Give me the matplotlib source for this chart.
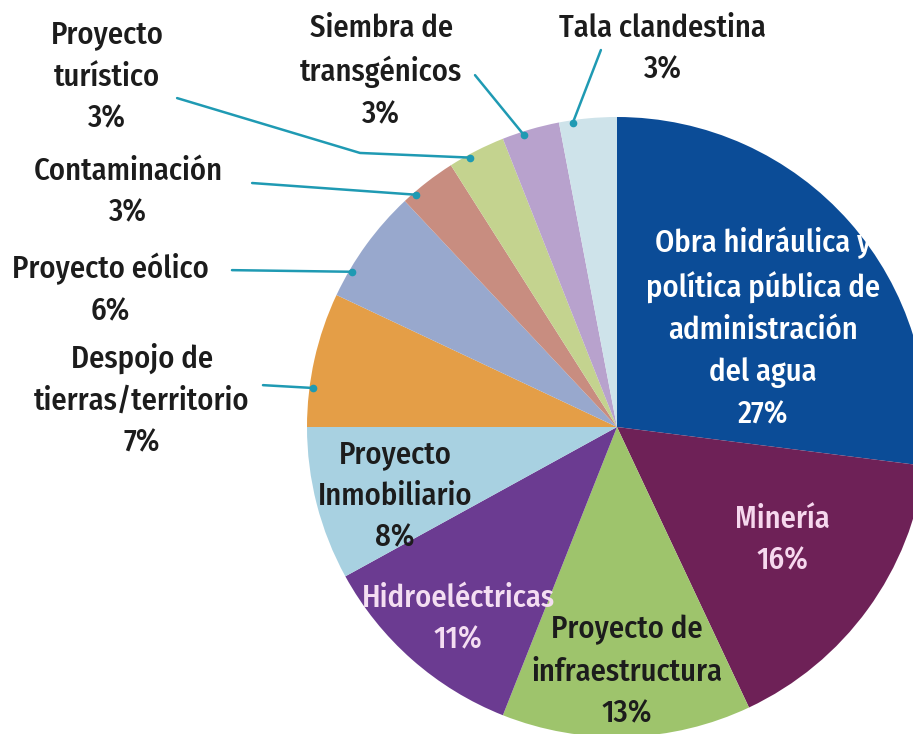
import matplotlib
import matplotlib.pyplot as plt
import numpy as np

matplotlib.use("Agg")

# data
categories = [
    "Obra hidráulica y\npolítica pública de\nadministración\ndel agua",
    "Minería",
    "Proyecto de\ninfraestructura",
    "Hidroeléctricas",
    "Proyecto\nInmobiliario",
    "Despojo de\ntierras/territorio",
    "Proyecto eólico",
    "Contaminación",
    "Proyecto\nturístico",
    "Siembra de\ntransgénicos",
    "Tala clandestina",
]
shares = [27, 16, 13, 11, 8, 7, 6, 3, 3, 3, 3]
colors = ["#0b4c97", "#6e2157", "#9ec46c", "#6b3b91", "#a8d1e1", "#e49e47",
          "#98a8cd", "#c88d80", "#c4d38f", "#b8a2cd", "#cee3ea"]

# layout (offsets in pie radii from the centre)
inside = {
    0: ((0.471, 0.319), "white"),
    1: ((0.535, -0.365), "#f6d8ee"),
    2: ((0.032, -0.790), "#1c1c1c"),
    3: ((-0.513, -0.619), "#f4def2"),
    4: ((-0.716, -0.223), "#1c1c1c"),
}
# label centre, leader points, where the leader meets the wedge (fraction of its arc)
outside = {
    5: ((-1.532, 0.087), [(-1.142, 0.135)], 0.71),
    6: ((-1.635, 0.442), [(-1.242, 0.506)], 0.76),
    7: ((-1.577, 0.758), [(-1.177, 0.787)], 0.78),
    8: ((-1.645, 1.129), [(-1.419, 1.061), (-0.829, 0.884)], 0.65),
    9: ((-0.761, 1.148), [(-0.458, 1.135)], 0.64),
    10: ((0.148, 1.219), [(-0.052, 1.216)], 0.77),
}

W, H = 913, 734
cx, cy, R = 617, 734 - 427, 310
font = ["Fira Sans Condensed", "DejaVu Sans"]
teal = "#1f9ab3"
fs, ls = 22, 1.48

fig = plt.figure(figsize=(W / 100, H / 100), dpi=100)
ax = fig.add_axes([0, 0, 1, 1])
wedges, _ = ax.pie(shares, colors=colors, startangle=90, counterclock=False,
                   center=(cx, cy), radius=R, wedgeprops=dict(linewidth=0))
ax.set_xlim(0, W)
ax.set_ylim(0, H)
ax.set_aspect("equal")
ax.axis("off")

for i, ((dx, dy), col) in inside.items():
    ax.text(cx + dx * R, cy + dy * R, f"{categories[i]}\n{shares[i]}%",
            ha="center", va="center", fontsize=fs, color=col, family=font,
            fontweight=500, linespacing=ls)

for i, ((dx, dy), path, frac) in outside.items():
    ax.text(cx + dx * R, cy + dy * R, f"{categories[i]}\n{shares[i]}%",
            ha="center", va="center", fontsize=fs, color="#1c1c1c", family=font,
            fontweight=500, linespacing=ls)
    w = wedges[i]
    ang = np.deg2rad(w.theta1 + (w.theta2 - w.theta1) * frac)
    end = (cx + 0.99 * R * np.cos(ang), cy + 0.99 * R * np.sin(ang))
    xs = [cx + px * R for px, _ in path] + [end[0]]
    ys = [cy + py * R for _, py in path] + [end[1]]
    ax.plot(xs, ys, color=teal, lw=1.8, solid_capstyle="round")
    ax.plot(end[0], end[1], "o", color=teal, ms=4.5)

fig.savefig("out.png", dpi=100)
